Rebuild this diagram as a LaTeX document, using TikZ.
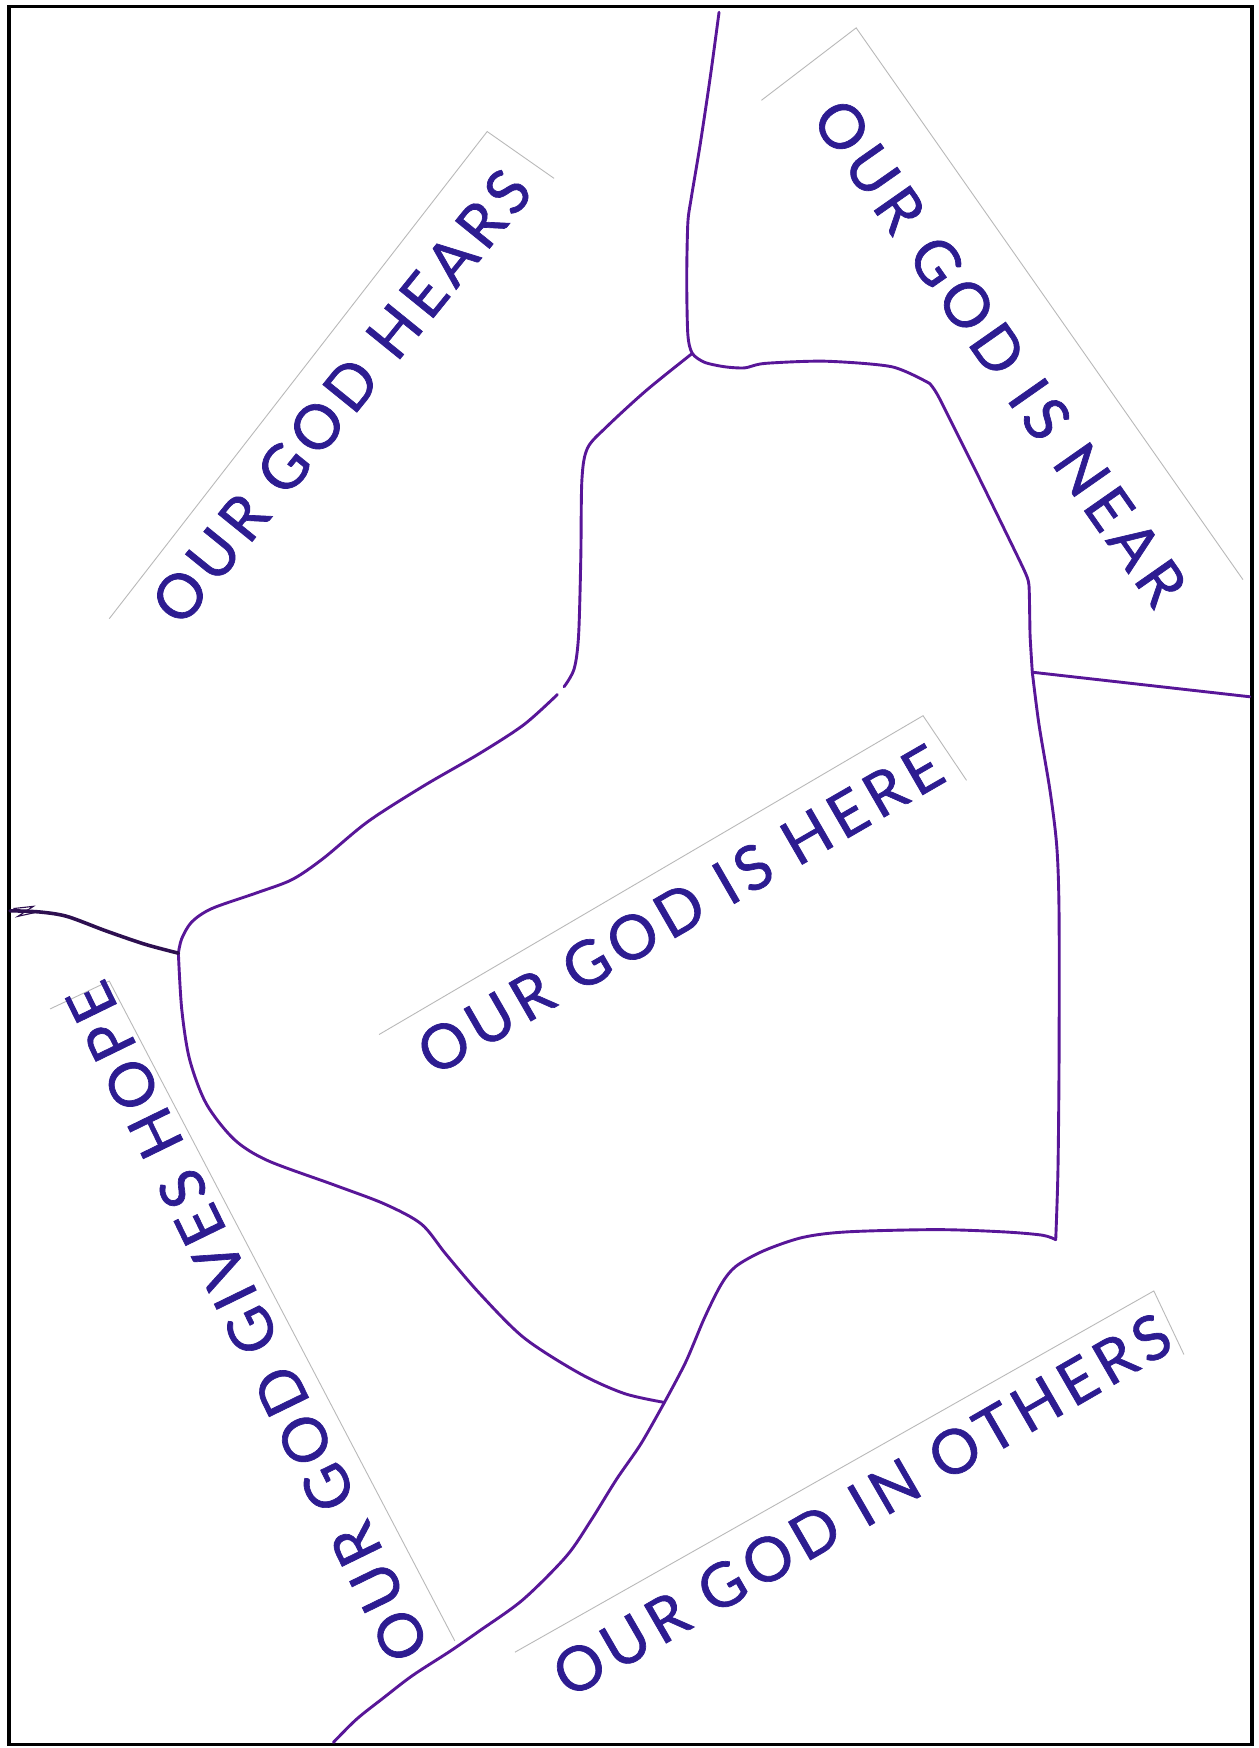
\documentclass[tikz,border=0pt]{standalone}
\usepackage{fontspec}
\setmainfont{Lato}
\newfontfamily\labelfont[LetterSpace=10,FakeBold=1.1]{Lato}
\definecolor{inkblue}{RGB}{45,28,145}
\definecolor{penpurple}{RGB}{88,22,152}
\definecolor{darkpen}{RGB}{45,15,80}
\begin{document}
\begin{tikzpicture}[x=1pt,y=-1pt,
  pline/.style={draw=penpurple, line width=2.6pt, line join=round, line cap=round},
  darkline/.style={draw=darkpen, line width=3.2pt, line join=round, line cap=round},
  strip/.style={draw=gray!55, line width=0.8pt},
  frame/.style={draw=black, line width=3pt},
  lbl/.style={text=inkblue, inner sep=0pt, font=\labelfont\fontsize{55}{66}\selectfont}]
\useasboundingbox (0,0) rectangle (1129,1568);
\fill[white] (0,0) rectangle (1129,1568);
\draw[frame] (8,6) rectangle (1123,1565);

% junctions
\coordinate (J1) at (621,317);
\coordinate (J2) at (926,603);
\coordinate (J3) at (596,1258);
\coordinate (JL) at (160,855);
\coordinate (C) at (947,1112);
\coordinate (Ttop) at (645,11);
\coordinate (Rend) at (1121,625);
\coordinate (Lend) at (9,817);
\coordinate (Bend) at (299,1563);

% top line into right upper edge
\draw[pline] plot[smooth, tension=0.45] coordinates {(Ttop) (637,70) (628,130) (620,178) (617,200) (616,250) (617,300) (J1) (632,325) (650,329) (668,330) (686,326) (740,324) (800,329) (834,344)};
\draw[pline] plot[smooth, tension=0.3] coordinates {(834,344) (842,356) (880,432) (918,510) (923,525) (924,570) (J2)};
% right side down
\draw[pline] plot[smooth, tension=0.5] coordinates {(J2) (932,650) (942,710) (948,760) (950,820) (950,950) (949,1050) (C)};
% bottom edge
\draw[pline] plot[smooth, tension=0.5] coordinates {(C) (935,1108) (900,1105) (840,1103) (760,1105) (720,1110) (685,1122) (660,1136) (647,1152) (632,1182) (615,1222) (J3)};
% continuation to bottom border
\draw[pline] plot[smooth, tension=0.5] coordinates {(J3) (575,1295) (553,1327) (530,1364) (508,1396) (469,1435) (430,1463) (404,1481) (370,1503) (344,1523) (320,1542) (Bend)};
% heart bottom-left
\draw[pline] plot[smooth, tension=0.5] coordinates {(JL) (163,905) (170,950) (185,990) (210,1022) (240,1041) (300,1063) (345,1080) (378,1098) (400,1125) (430,1160) (470,1200) (520,1232) (560,1250) (J3)};
% heart top-left
\draw[pline] plot[smooth, tension=0.5] coordinates {(J1) (580,350) (544,383) (527,402) (522,430) (521,500) (519,570) (515,600) (506,616)};
\draw[pline] plot[smooth, tension=0.5] coordinates {(500,623) (470,650) (430,676) (380,705) (330,737) (290,770) (262,789) (230,801) (190,815) (172,827) (163,842) (JL)};
% left branch
\draw[darkline] plot[smooth, tension=0.5] coordinates {(JL) (130,847) (95,835) (60,822) (35,818) (Lend)};
\draw[darkpen, line width=1pt] (12,815) -- (30,813) -- (16,822) -- (34,818);
% right branch
\draw[pline] (J2) -- (Rend);

% paper strip edges
\coordinate (A1) at (98,555); \coordinate (A2) at (437,118); \coordinate (A3) at (497,160);
\coordinate (B1) at (683,90); \coordinate (B2) at (768,25); \coordinate (B3) at (1115,520);
\coordinate (C1) at (340,928); \coordinate (C2) at (828,642); \coordinate (C3) at (867,700);
\coordinate (D1) at (45,905); \coordinate (D2) at (98,880); \coordinate (D3) at (408,1472);
\coordinate (E1) at (462,1482); \coordinate (E2) at (1035,1158); \coordinate (E3) at (1062,1215);
\draw[strip] (A1) -- (A2) -- (A3);
\draw[strip] (B1) -- (B2) -- (B3);
\draw[strip] (C1) -- (C2) -- (C3);
\draw[strip] (D1) -- (D2) -- (D3);
\draw[strip] (E1) -- (E2) -- (E3);

% labels
\node[lbl, rotate=51] (hears) at (306,356) {OUR GOD HEARS};
\node[lbl, rotate=-55] (near) at (897,316) {OUR GOD IS NEAR};
\node[lbl, rotate=30] (here) at (610,816) {OUR GOD IS HERE};
\node[lbl, rotate=116] (hope) at (222,1186) {OUR GOD GIVES HOPE};
\node[lbl, rotate=30] (others) at (773,1350) {OUR GOD IN OTHERS};
\end{tikzpicture}
\end{document}
